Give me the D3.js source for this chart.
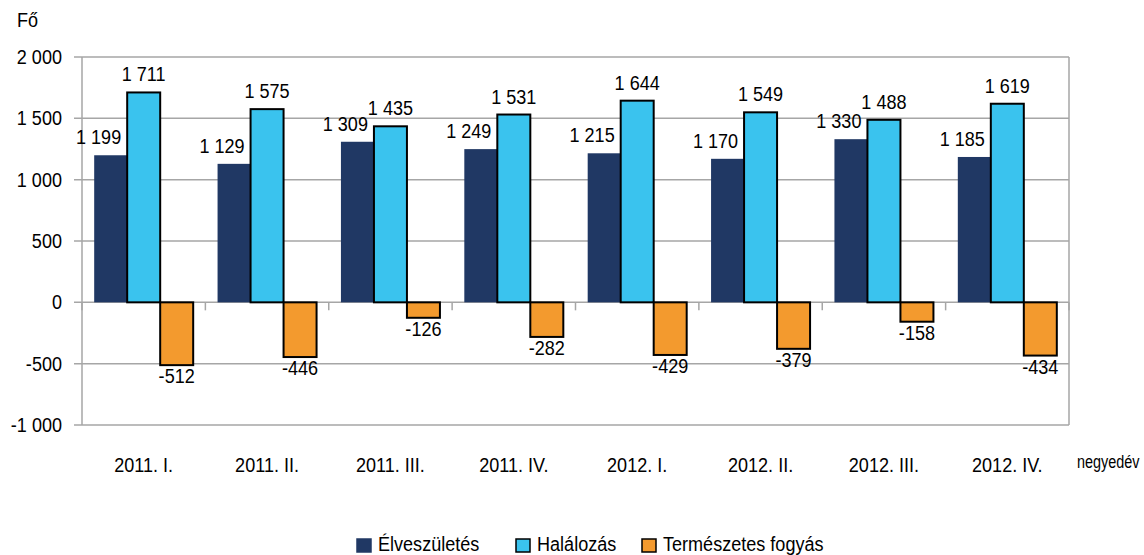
<!DOCTYPE html>
<html>
<head>
    <title>Élveszületés, halálozás, természetes fogyás</title>
    <script src="https://d3js.org/d3.v7.min.js"></script>
    <style>
        body { margin: 0; background: #fff; }
        text { font-family: "Liberation Sans", Arial, sans-serif; fill: #000; }
    </style>
</head>
<body>
    <div id="chart"></div>

    <script>
        // Negyedéves adatok
        const categories = ["2011. I.", "2011. II.", "2011. III.", "2011. IV.",
                            "2012. I.", "2012. II.", "2012. III.", "2012. IV."];
        const births = [1199, 1129, 1309, 1249, 1215, 1170, 1330, 1185];
        const deaths = [1711, 1575, 1435, 1531, 1644, 1549, 1488, 1619];
        const naturalDecrease = [-512, -446, -126, -282, -429, -379, -158, -434];
        const seriesNames = ["Élveszületés", "Halálozás", "Természetes fogyás"];
        const yTicks = [-1000, -500, 0, 500, 1000, 1500, 2000];

        const colors = ["#203864", "#3AC3EE", "#F39A2E"];
        const strokes = ["none", "#000", "#000"];

        const W = 1144, H = 555;
        const plot = { left: 82, right: 1069, top: 57, bottom: 425 };
        const fs = 21;

        const svg = d3.select("#chart")
            .append("svg")
            .attr("width", W)
            .attr("height", H);

        const fmt = v => (v < 0 ? "-" : "") + d3.format(",")(Math.abs(v)).replace(/,/g, " ");

        // place a text at (x, y) with a slightly condensed glyph shape
        const place = (sel, fx, fy, sq = 0.86) => sel
            .attr("transform", (d, i) => `translate(${fx(d, i)},${fy(d, i)}) scale(${sq},1)`)
            .attr("font-size", fs);

        // Scales
        const x = d3.scaleBand()
            .domain(categories)
            .range([plot.left, plot.right])
            .padding(0);

        const barW = 33;
        const x1 = d3.scaleBand()
            .domain(seriesNames)
            .range([x.bandwidth() / 2 - barW * 1.5, x.bandwidth() / 2 + barW * 1.5])
            .padding(0);

        const y = d3.scaleLinear()
            .domain([-1000, 2000])
            .range([plot.bottom, plot.top]);

        // Gridlines
        svg.append("g")
            .selectAll("line")
            .data(yTicks)
            .enter().append("line")
            .attr("x1", plot.left - 8)
            .attr("x2", plot.right)
            .attr("y1", d => y(d))
            .attr("y2", d => y(d))
            .attr("stroke", "#A6A6A6")
            .attr("stroke-width", 1.5);

        // Left axis and right border
        svg.append("line")
            .attr("x1", plot.left).attr("x2", plot.left)
            .attr("y1", plot.top).attr("y2", plot.bottom)
            .attr("stroke", "#A6A6A6").attr("stroke-width", 1.5);
        svg.append("line")
            .attr("x1", plot.right).attr("x2", plot.right)
            .attr("y1", plot.top).attr("y2", plot.bottom)
            .attr("stroke", "#A6A6A6").attr("stroke-width", 1.5);

        // Category ticks on the zero line
        const boundaries = categories.map(c => x(c)).concat([plot.right]);
        svg.append("g")
            .selectAll("line")
            .data(boundaries)
            .enter().append("line")
            .attr("x1", d => d).attr("x2", d => d)
            .attr("y1", y(0)).attr("y2", y(0) + 8)
            .attr("stroke", "#A6A6A6").attr("stroke-width", 1.5);

        // Y tick labels
        svg.append("g")
            .selectAll("text")
            .data(yTicks)
            .enter().append("text")
            .call(place, () => 62, d => y(d) + 7)
            .attr("text-anchor", "end")
            .text(fmt);

        svg.append("text")
            .datum("Fő")
            .call(place, () => 17, () => 27)
            .text(d => d);

        // X labels
        svg.append("g")
            .selectAll("text")
            .data(categories)
            .enter().append("text")
            .call(place, d => x(d) + x.bandwidth() / 2, () => 472)
            .attr("text-anchor", "middle")
            .text(d => d);

        svg.append("text")
            .datum("negyedév")
            .call(place, () => 1077, () => 468, 0.76)
            .attr("font-size", 19)
            .text(d => d);

        // Bars
        const seriesData = [births, deaths, naturalDecrease];
        const groups = svg.append("g")
            .selectAll("g")
            .data(categories)
            .enter().append("g")
            .attr("transform", d => `translate(${x(d)},0)`);

        groups.selectAll("rect")
            .data((c, i) => seriesNames.map((s, k) => ({ s, k, v: seriesData[k][i] })))
            .enter().append("rect")
            .attr("x", d => x1(d.s))
            .attr("width", x1.bandwidth())
            .attr("y", d => y(Math.max(0, d.v)))
            .attr("height", d => Math.abs(y(d.v) - y(0)))
            .attr("fill", d => colors[d.k])
            .attr("stroke", d => strokes[d.k])
            .attr("stroke-width", 2);

        // Value labels
        groups.selectAll("text")
            .data((c, i) => seriesNames.map((s, k) => ({ s, k, v: seriesData[k][i] })))
            .enter().append("text")
            .call(place,
                d => d.k === 0 ? x1(d.s) + x1.bandwidth() - 6 : x1(d.s) + x1.bandwidth() / 2,
                d => d.v >= 0 ? y(d.v) - 11 : y(d.v) + 18)
            .attr("text-anchor", d => d.k === 0 ? "end" : "middle")
            .text(d => fmt(d.v));

        // Legend
        const legendX = [357, 516, 642];
        const legend = svg.append("g")
            .selectAll("g")
            .data(seriesNames)
            .enter().append("g")
            .attr("transform", (d, i) => `translate(${legendX[i]},0)`);

        legend.append("rect")
            .attr("y", 539)
            .attr("width", 14).attr("height", 13)
            .attr("fill", (d, i) => colors[i])
            .attr("stroke", (d, i) => i === 0 ? colors[0] : "#000")
            .attr("stroke-width", 1.5);

        legend.append("text")
            .call(place, () => 21, () => 551)
            .text(d => d);
    </script>
</body>
</html>
